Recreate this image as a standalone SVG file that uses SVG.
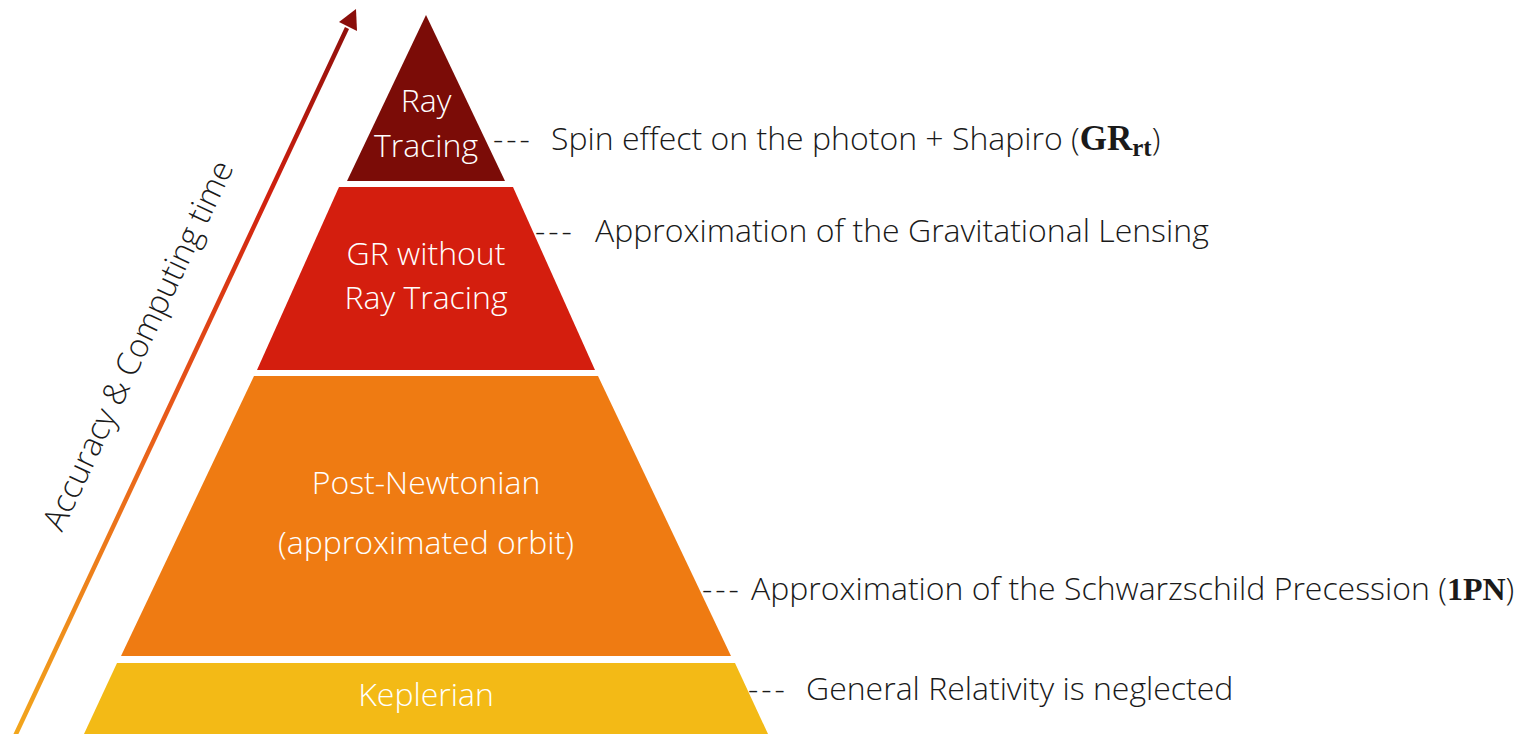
<svg xmlns="http://www.w3.org/2000/svg" width="1519" height="734" viewBox="0 0 1519 734">
<style>
.t{font-family:"Open Sans","Liberation Sans",sans-serif;font-weight:300;}
.w{fill:#ffffff;font-size:32px;text-anchor:middle;}
.l{fill:#1a1a1a;font-size:32px;}
.d{letter-spacing:3px;}
.m{font-family:"Liberation Serif","DejaVu Serif",serif;font-weight:700;}
</style>
<defs>
<linearGradient id="ag" gradientUnits="userSpaceOnUse" x1="15" y1="734" x2="355" y2="10">
<stop offset="0" stop-color="#F2A61C"/>
<stop offset="0.45" stop-color="#E8591A"/>
<stop offset="0.75" stop-color="#D0200F"/>
<stop offset="1" stop-color="#8A0E0B"/>
</linearGradient>
</defs>
<g id="arrow">
<line x1="15" y1="736" x2="347" y2="28" stroke="url(#ag)" stroke-width="4.5"/>
<polygon points="356,9 357,31 339,22" fill="#8A0E0B"/>
<text class="t" font-size="32.5" fill="#1a1a1a" text-anchor="middle" transform="translate(148,350) rotate(-64.8)">Accuracy &amp; Computing time</text>
</g>
<g id="ray-tracing">
<polygon points="426,15 347,181 505,181" fill="#7B0C07"/>
<text class="t w" x="426" y="112">Ray</text>
<text class="t w" x="426" y="157">Tracing</text>
</g>
<g id="gr-without">
<polygon points="339,187 513,187 595,370 257,370" fill="#D41E0E"/>
<text class="t w" x="426" y="265">GR without</text>
<text class="t w" x="426" y="309">Ray Tracing</text>
</g>
<g id="post-newtonian">
<polygon points="254,376 598,376 731,656 121,656" fill="#EF7B12"/>
<text class="t w" x="426" y="494">Post-Newtonian</text>
<text class="t w" x="426" y="554">(approximated orbit)</text>
</g>
<g id="keplerian">
<polygon points="117,663 735,663 768,734 84,734" fill="#F3BA16"/>
<text class="t w" x="426" y="706">Keplerian</text>
</g>
<g id="labels">
<text class="t l d" x="493" y="150">---</text>
<text class="t l" x="551" y="150">Spin effect on the photon + Shapiro (<tspan class="m" font-size="35">GR<tspan font-size="25" dy="6">rt</tspan></tspan><tspan dy="-6">)</tspan></text>
<text class="t l d" x="535" y="242">---</text>
<text class="t l" x="595" y="242">Approximation of the Gravitational Lensing</text>
<text class="t l d" x="702" y="600">---</text>
<text class="t l" x="751" y="600">Approximation of the Schwarzschild Precession (<tspan class="m">1PN</tspan>)</text>
<text class="t l d" x="748" y="700">---</text>
<text class="t l" x="806" y="700">General Relativity is neglected</text>
</g>
</svg>
